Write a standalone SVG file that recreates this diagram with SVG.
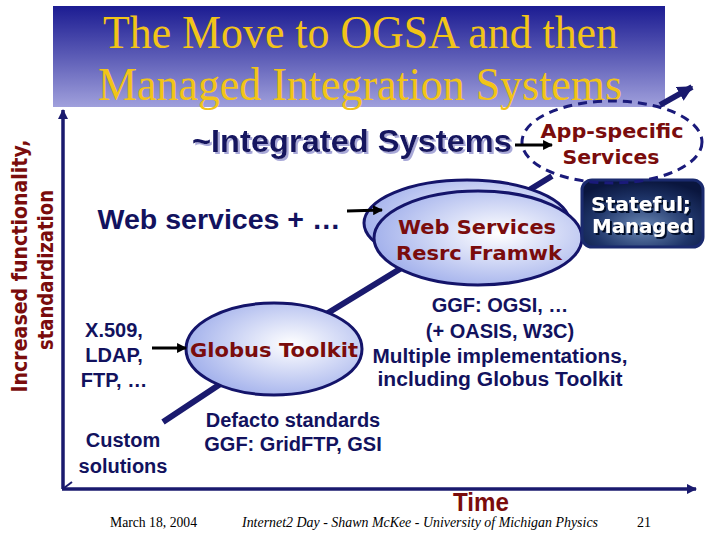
<svg xmlns="http://www.w3.org/2000/svg" width="720" height="540" viewBox="0 0 720 540">
<defs>
<linearGradient id="banner" x1="0" y1="0" x2="0" y2="1">
<stop offset="0" stop-color="#1c1c92"/>
<stop offset="0.5" stop-color="#5c5cb6"/>
<stop offset="1" stop-color="#a0a0dc"/>
</linearGradient>
<radialGradient id="ell" cx="0.6" cy="0.45" r="0.6">
<stop offset="0" stop-color="#ffffff"/>
<stop offset="1" stop-color="#a4b2ec"/>
</radialGradient>
<radialGradient id="box" cx="0.5" cy="0.7" r="0.7">
<stop offset="0" stop-color="#6a88b4"/>
<stop offset="0.6" stop-color="#1e3468"/>
<stop offset="1" stop-color="#0a163e"/>
</radialGradient>
<filter id="shLight" x="-5%" y="-20%" width="110%" height="150%">
<feDropShadow dx="2" dy="2" stdDeviation="0.6" flood-color="#a8a8d8" flood-opacity="1"/>
</filter>
<filter id="shDark" x="-5%" y="-20%" width="110%" height="150%">
<feDropShadow dx="2" dy="2" stdDeviation="0.5" flood-color="#00082a" flood-opacity="1"/>
</filter>
<marker id="blk" viewBox="0 0 10 10" refX="9" refY="5" markerWidth="3.3" markerHeight="3.3" orient="auto" markerUnits="strokeWidth">
<path d="M0,0 L10,5 L0,10 z" fill="#000"/>
</marker>
<marker id="nav" viewBox="0 0 10 10" refX="9" refY="5" markerWidth="3" markerHeight="3" orient="auto" markerUnits="strokeWidth">
<path d="M0,0 L10,5 L0,10 z" fill="#1a1a6e"/>
</marker>
<marker id="navBig" viewBox="0 0 10 10" refX="9" refY="5" markerWidth="2.6" markerHeight="2.6" orient="auto" markerUnits="strokeWidth">
<path d="M0,0 L10,5 L0,10 z" fill="#1a1a6e"/>
</marker>
</defs>
<style>
.t{font-family:"Liberation Serif","Times New Roman",serif;fill:#f2c418;font-size:46px}
.n{font-family:"Liberation Sans",Arial,sans-serif;font-weight:bold;fill:#12125e;font-size:20px;text-anchor:middle}
.r{font-family:"DejaVu Sans",Verdana,sans-serif;font-weight:bold;fill:#7a0c0c;font-size:20px;text-anchor:middle}
.w{font-family:"DejaVu Sans",Verdana,sans-serif;font-weight:bold;fill:#ffffff;font-size:20px;text-anchor:middle}
.ax{font-family:"DejaVu Sans",Verdana,sans-serif;font-weight:bold;fill:#7a0c0c;font-size:21px;text-anchor:middle}
.f{font-family:"Liberation Serif","Times New Roman",serif;fill:#000;font-size:14px}
.el{fill:url(#ell);stroke:#14146a;stroke-width:3}
</style>
<rect x="0" y="0" width="720" height="540" fill="#ffffff"/>
<g id="title">
<rect x="53" y="6" width="612" height="101" fill="url(#banner)"/>
<text class="t" x="103" y="48" textLength="515" lengthAdjust="spacingAndGlyphs">The Move to OGSA and then</text>
<text class="t" x="98" y="100" textLength="524" lengthAdjust="spacingAndGlyphs">Managed Integration Systems</text>
</g>
<g id="axes">
<line x1="63" y1="489" x2="63" y2="110" stroke="#1a1a6e" stroke-width="3.5" marker-end="url(#nav)"/>
<line x1="62" y1="489" x2="696" y2="489" stroke="#1a1a6e" stroke-width="3.5" marker-end="url(#nav)"/>
<path d="M64,488 L72,482" stroke="#1a1a6e" stroke-width="2"/>
<text class="ax" transform="translate(27,266) rotate(-90)" textLength="253" lengthAdjust="spacingAndGlyphs">Increased functionality,</text>
<text class="ax" transform="translate(53,270) rotate(-90)" textLength="160" lengthAdjust="spacingAndGlyphs">standardization</text>
<text x="453" y="511" font-family="Liberation Sans, Arial, sans-serif" font-weight="bold" font-size="25" fill="#7a0c0c" textLength="56" lengthAdjust="spacingAndGlyphs">Time</text>
</g>
<g id="trend">
<polyline points="163,422 323,316 552,176" fill="none" stroke="#1a1a6e" stroke-width="6"/>
</g>
<g id="globus">
<ellipse class="el" cx="274" cy="349" rx="88" ry="46"/>
<text class="r" x="274" y="357" textLength="168" lengthAdjust="spacingAndGlyphs">Globus Toolkit</text>
</g>
<g id="wsrf">
<ellipse class="el" cx="467" cy="223" rx="103" ry="43"/>
<ellipse class="el" cx="478" cy="238" rx="104" ry="47"/>
<text class="r" x="477" y="234" textLength="158" lengthAdjust="spacingAndGlyphs">Web Services</text>
<text class="r" x="479" y="260" textLength="166" lengthAdjust="spacingAndGlyphs">Resrc Framwk</text>
</g>
<g id="stateful">
<rect x="582" y="180" width="121" height="67" rx="10" fill="url(#box)" stroke="#1a2a6e" stroke-width="3"/>
<text class="w" x="641" y="211" filter="url(#shDark)" textLength="100" lengthAdjust="spacingAndGlyphs">Stateful;</text>
<text class="w" x="643" y="233" filter="url(#shDark)" textLength="102" lengthAdjust="spacingAndGlyphs">Managed</text>
</g>
<g id="app-specific">
<ellipse cx="612" cy="142" rx="90" ry="41" fill="none" stroke="#1a1a7a" stroke-width="3" stroke-dasharray="9,6"/>
<text class="r" x="612" y="138" textLength="143" lengthAdjust="spacingAndGlyphs">App-specific</text>
<text class="r" x="611" y="164" textLength="97" lengthAdjust="spacingAndGlyphs">Services</text>
</g>
<g id="connectors">
<line x1="660" y1="105" x2="692" y2="87" stroke="#1a1a6e" stroke-width="6" marker-end="url(#navBig)"/>
<line x1="152" y1="348" x2="186" y2="348" stroke="#000" stroke-width="3" marker-end="url(#blk)"/>
<line x1="347" y1="211" x2="382" y2="210" stroke="#000" stroke-width="3" marker-end="url(#blk)"/>
<line x1="515" y1="145" x2="552" y2="145" stroke="#000" stroke-width="3" marker-end="url(#blk)"/>
</g>
<g id="labels">
<text class="n" x="352" y="152" style="font-size:32px" filter="url(#shLight)" textLength="320" lengthAdjust="spacingAndGlyphs">~Integrated Systems</text>
<text class="n" x="219" y="229" style="font-size:27px" textLength="243" lengthAdjust="spacingAndGlyphs">Web services + …</text>
<text class="n" x="114" y="337">X.509,</text>
<text class="n" x="114" y="362">LDAP,</text>
<text class="n" x="114" y="387">FTP, …</text>
<text class="n" x="123" y="447">Custom</text>
<text class="n" x="123" y="473">solutions</text>
<text class="n" x="293" y="427">Defacto standards</text>
<text class="n" x="293" y="451">GGF: GridFTP, GSI</text>
<text class="n" x="500" y="312">GGF: OGSI, …</text>
<text class="n" x="500" y="338">(+ OASIS, W3C)</text>
<text class="n" x="500" y="363" textLength="255" lengthAdjust="spacingAndGlyphs">Multiple implementations,</text>
<text class="n" x="500" y="386" textLength="245" lengthAdjust="spacingAndGlyphs">including Globus Toolkit</text>
</g>
<g id="footer">
<text class="f" x="110" y="527" textLength="87" lengthAdjust="spacingAndGlyphs">March 18, 2004</text>
<text class="f" x="242" y="527" font-style="italic" textLength="356" lengthAdjust="spacingAndGlyphs">Internet2 Day - Shawn McKee - University of Michigan Physics</text>
<text class="f" x="637" y="527">21</text>
</g>
</svg>
